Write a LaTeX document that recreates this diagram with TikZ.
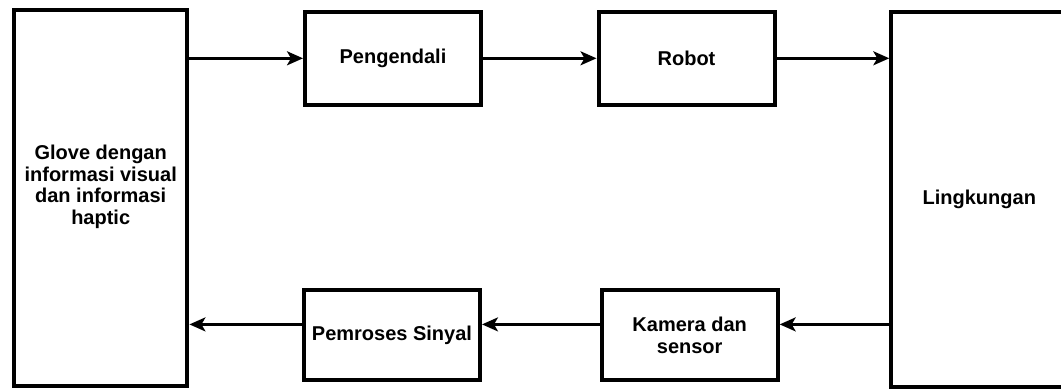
\documentclass[tikz,border=0pt]{standalone}
\usepackage{fontspec}
\setmainfont{Liberation Sans}
\usetikzlibrary{arrows.meta}

\tikzset{
  blok/.style={draw, line width=4pt, minimum width=176pt, minimum height=93pt,
    inner sep=2pt, align=center, font=\bfseries\fontsize{20}{21.5}\selectfont},
  tinggi/.style={minimum height=375pt},
  teks/.style={inner sep=0pt, align=center, font=\bfseries\fontsize{20}{21.5}\selectfont},
  panah/.style={line width=2.5pt, -{Stealth[length=16pt,width=14pt,inset=4pt]}},
}

\begin{document}
\begin{tikzpicture}[x=1pt,y=-1pt]
        \clip (0,0) rectangle (1061,390);

        % the two tall boxes
        \node[blok, tinggi, minimum width=173.5pt] (glove) at (100.7,198) {};
        \node[teks] (glovetxt) at (100.7,187)
          {Glove dengan\\informasi visual\\dan informasi\\haptic};
        \node[blok, tinggi] (ling) at (979.3,199.4) {Lingkungan};

        % forward path
        \node[blok] (peng) at (393,58.3) {Pengendali};
        \node[blok] (robot) at (686.5,58.3) {Robot};

        % feedback path
        \node[blok, minimum height=90pt] (pem) at (392,335.4) {Pemroses Sinyal};
        \node[blok, minimum height=90pt] (kam) at (689.7,335.4) {Kamera dan\\sensor};

        \draw[panah] (peng.west -| glove.east) -- (peng.west);
        \draw[panah] (peng.east) -- (robot.west);
        \draw[panah] (robot.east) -- (robot.east -| ling.west);

        % feedback arrows sit a bit above the box middle
        \draw[panah] ([yshift=11pt]kam.east -| ling.west) -- ([yshift=11pt]kam.east);
        \draw[panah] ([yshift=11pt]kam.west) -- ([yshift=11pt]pem.east);
        \draw[panah] ([yshift=11pt]pem.west) -- ([yshift=11pt]pem.west -| glove.east);
      \end{tikzpicture}
\end{document}
